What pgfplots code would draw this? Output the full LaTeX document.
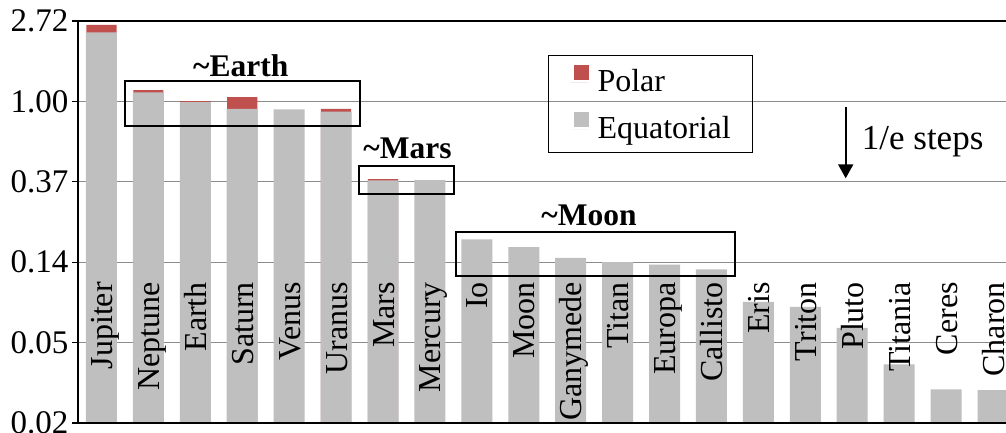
\documentclass[border=0pt]{standalone}
\usepackage{fontspec}
\setmainfont{Liberation Serif}
\usepackage{pgfplots}
\pgfplotsset{compat=1.18}
\usetikzlibrary{arrows.meta}
\definecolor{eqgray}{RGB}{191,191,191}
\definecolor{polred}{RGB}{192,80,77}
\definecolor{gridgray}{RGB}{140,140,140}
\pgfplotsset{
  layers/mylayers/.define layer set={axis background,axis grid,pre main,main,axis ticks,axis lines,axis tick labels,axis descriptions,axis foreground}{/pgfplots/layers/standard},
}

\begin{document}
\begin{tikzpicture}
\begin{axis}[
  set layers=mylayers,
  at={(0pt,0pt)}, anchor=south west,
  scale only axis, width=928pt, height=402pt,
  ymode=log, ymin=0.0183156, ymax=2.7182818,
  log origin=infty,
  xmin=-0.5, xmax=19.277,
  axis x line*=bottom, axis y line*=left,
  axis line style={line width=1.2pt, black, -},
  ytick={0.0183156,0.0497871,0.1353353,0.3678794,1,2.7182818},
  yticklabels={0.02,0.05,0.14,0.37,1.00,2.72},
  yticklabel style={font=\fontsize{33}{33}\selectfont},
  /pgf/number format/assume math mode=true,
  ymajorgrids, grid style={gridgray, line width=1.2pt},
  tick align=outside, major tick length=6pt,
  ytick style={black, line width=1.2pt},
  xtick={0,...,19},
  xticklabels={Jupiter,Neptune,Earth,Saturn,Venus,Uranus,Mars,Mercury,Io,Moon,Ganymede,Titan,Europa,Callisto,Eris,Triton,Pluto,Titania,Ceres,Charon},
  xtick style={draw=none},
  xticklabel style={rotate=90, anchor=east, inner sep=0pt, text height=22pt, text depth=0pt, font=\fontsize{32}{32}\selectfont},
  xticklabel shift=-147pt,
  ybar,
  legend cell align=left,
  legend style={at={(0.5065,0.9154)}, anchor=north west, draw=black, line width=1pt, fill=none,
    font=\fontsize{32}{32}\selectfont, inner xsep=22pt, inner ysep=9.5pt, row sep=16.5pt,
    column sep=9pt,
    nodes={inner sep=0pt, text height=22pt, text depth=4.5pt}},
]
\addplot[fill=polred, draw=none, bar shift=0pt, bar width=30.2pt,
  legend image code/.code={\path (0pt,0pt) -- (18pt,0pt);\fill[polred] (3pt,2.5pt) rectangle (18pt,17.5pt);}]
  coordinates {(0,2.593) (1,1.151) (2,1.004) (3,1.055) (5,0.911) (6,0.380)};
\addlegendentry{Polar}
\addplot[fill=eqgray, draw=none, bar shift=0pt, bar width=31pt,
  legend image code/.code={\path (0pt,0pt) -- (18pt,0pt);\fill[eqgray] (3pt,2.5pt) rectangle (18pt,17.5pt);}]
  coordinates {(0,2.359) (1,1.118) (2,0.990) (3,0.912) (4,0.905) (5,0.881)
    (6,0.374) (7,0.376) (8,0.180) (9,0.163) (10,0.143) (11,0.1355) (12,0.1313)
    (13,0.1237) (14,0.0827) (15,0.0777) (16,0.0598) (17,0.0380) (18,0.0278) (19,0.0276)};
\addlegendentry{Equatorial}
\draw[black, line width=1.2pt] (rel axis cs:0,1) -- (rel axis cs:1,1);
\end{axis}
% annotations
\draw[black, line width=2pt] (47pt,297pt) rectangle (282pt,342pt);
\draw[black, line width=2pt] (281.3pt,228.7pt) rectangle (376.3pt,257.3pt);
\draw[black, line width=2pt] (377.7pt,147pt) rectangle (657pt,190.7pt);
\node[anchor=base, inner sep=0pt, font=\fontsize{31.5}{32}\selectfont\bfseries] at (162.8pt,346.3pt) {\textasciitilde Earth};
\node[anchor=base, inner sep=0pt, font=\fontsize{31.5}{32}\selectfont\bfseries] at (329.5pt,264pt) {\textasciitilde Mars};
\node[anchor=base, inner sep=0pt, font=\fontsize{31.5}{32}\selectfont\bfseries] at (511pt,197.3pt) {\textasciitilde Moon};
\draw[black, line width=2pt, -{Triangle[width=15pt,length=14pt]}] (767.7pt,316.3pt) -- (767.7pt,244.7pt);
\node[anchor=base west, inner sep=0pt, font=\fontsize{35}{36}\selectfont] at (783.7pt,273pt) {1/e steps};
\pgfresetboundingbox
\path[use as bounding box] (-78pt,-10pt) rectangle (928pt,423pt);
\end{tikzpicture}
\end{document}
